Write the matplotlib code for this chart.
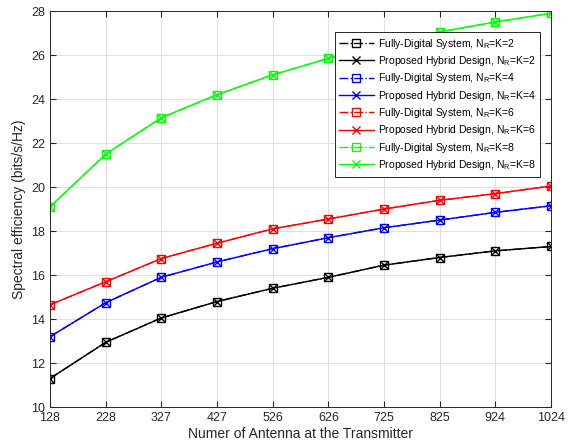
import matplotlib
matplotlib.use("Agg")
import matplotlib.pyplot as plt
import numpy as np

plt.rcParams['font.family'] = ['Liberation Sans', 'DejaVu Sans']

antennas = [128, 228, 327, 427, 526, 626, 725, 825, 924, 1024]
se_k2 = [11.3, 12.95, 14.05, 14.8, 15.4, 15.9, 16.45, 16.8, 17.1, 17.3]
se_k4 = [13.2, 14.75, 15.9, 16.6, 17.2, 17.7, 18.15, 18.5, 18.85, 19.15]
se_k6 = [14.65, 15.7, 16.75, 17.45, 18.1, 18.55, 19.0, 19.4, 19.7, 20.05]
se_k8 = [19.1, 21.5, 23.15, 24.2, 25.1, 25.85, 26.5, 27.05, 27.5, 27.9]

series = [(2, se_k2, 'black'), (4, se_k4, 'blue'), (6, se_k6, 'red'), (8, se_k8, '#00ff00')]

fig = plt.figure(figsize=(5.68, 4.43), dpi=100)
ax = fig.add_axes([0.088, 0.081, 0.882, 0.894])

for k, vals, c in series:
    ax.plot(antennas, vals, linestyle='-.', color=c, marker='s', markersize=6.2,
            markerfacecolor='none', markeredgewidth=1.0, linewidth=1.0,
            label=r'Fully-Digital System, N$_\mathregular{R}$=K=%d' % k)
    ax.plot(antennas, vals, linestyle='-', color=c, marker='x', markersize=5.5,
            markeredgewidth=1.0, linewidth=1.0,
            label=r'Proposed Hybrid Design, N$_\mathregular{R}$=K=%d' % k)

ax.set_xlim(128, 1024)
ax.set_ylim(10, 28)
ax.set_xticks(antennas)
ax.set_yticks(np.arange(10, 29, 2))
ax.tick_params(direction='in', top=True, right=True, labelsize=9, colors='#262626', length=4)
ax.grid(True, color='#e0e0e0', linewidth=0.7)
ax.set_axisbelow(True)
for s in ax.spines.values():
    s.set_color('#262626')
    s.set_linewidth(0.7)

ax.set_xlabel('Numer of Antenna at the Transmitter', fontsize=10, color='#262626', labelpad=2)
ax.set_ylabel('Spectral efficiency (bits/s/Hz)', fontsize=10, color='#262626', labelpad=4)

leg = ax.legend(loc='upper right', bbox_to_anchor=(0.979, 0.947), fontsize=7.5,
                frameon=True, fancybox=False, edgecolor='#262626', framealpha=1,
                handlelength=3.3, borderpad=0.45, labelspacing=0.32, handletextpad=0.4,
                borderaxespad=0)
leg.get_frame().set_linewidth(0.7)

fig.savefig('out.png', dpi=100)
